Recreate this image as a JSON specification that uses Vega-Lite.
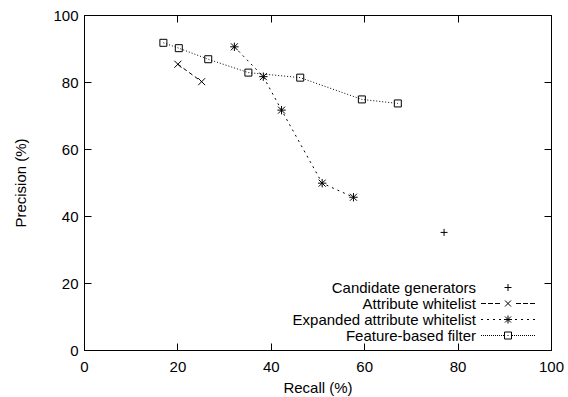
{
  "$schema": "https://vega.github.io/schema/vega-lite/v6.json",
  "width": 467,
  "height": 335,
  "autosize": {"type": "none"},
  "padding": {"left": 84, "top": 15, "right": 17, "bottom": 47},
  "background": "white",
  "config": {
    "font": "Liberation Sans",
    "view": {"stroke": "black", "strokeWidth": 1},
    "axis": {
      "domain": false,
      "grid": false,
      "tickSize": -7,
      "tickColor": "black",
      "tickWidth": 1,
      "labelFont": "Liberation Sans",
      "labelFontSize": 15,
      "labelColor": "black",
      "labelFlush": false,
      "labelOverlap": false,
      "titleFont": "Liberation Sans",
      "titleFontSize": 15,
      "titleFontWeight": "normal",
      "titleColor": "black"
    }
  },
  "data": {
    "values": [
      {"series": "Candidate generators", "recall": 77.1, "precision": 35.1},
      {"series": "Attribute whitelist", "recall": 20.1, "precision": 85.3},
      {"series": "Attribute whitelist", "recall": 25.2, "precision": 80.1},
      {"series": "Expanded attribute whitelist", "recall": 32.2, "precision": 90.5},
      {"series": "Expanded attribute whitelist", "recall": 38.4, "precision": 81.6},
      {"series": "Expanded attribute whitelist", "recall": 42.3, "precision": 71.6},
      {"series": "Expanded attribute whitelist", "recall": 51.0, "precision": 49.8},
      {"series": "Expanded attribute whitelist", "recall": 57.7, "precision": 45.6},
      {"series": "Feature-based filter", "recall": 17.0, "precision": 91.7},
      {"series": "Feature-based filter", "recall": 20.3, "precision": 90.1},
      {"series": "Feature-based filter", "recall": 26.6, "precision": 86.8},
      {"series": "Feature-based filter", "recall": 35.2, "precision": 82.8},
      {"series": "Feature-based filter", "recall": 46.3, "precision": 81.3},
      {"series": "Feature-based filter", "recall": 59.5, "precision": 74.8},
      {"series": "Feature-based filter", "recall": 67.2, "precision": 73.6}
    ]
  },
  "layer": [
    {
      "transform": [{"filter": "datum.series === 'Attribute whitelist'"}],
      "mark": {"type": "line", "color": "black", "strokeWidth": 1, "strokeDash": [4, 3]},
      "encoding": {
        "x": {
          "field": "recall", "type": "quantitative",
          "scale": {"domain": [0, 100], "nice": false, "zero": false},
          "axis": {"orient": "bottom", "values": [0, 20, 40, 60, 80, 100], "labelPadding": 16, "title": "Recall (%)", "titlePadding": 6}
        },
        "y": {
          "field": "precision", "type": "quantitative",
          "scale": {"domain": [0, 100], "nice": false, "zero": false},
          "axis": {"orient": "left", "values": [0, 20, 40, 60, 80, 100], "labelPadding": 13, "title": "Precision (%)", "titlePadding": 24}
        }
      }
    },
    {
      "transform": [{"filter": "datum.series === 'Expanded attribute whitelist'"}],
      "mark": {"type": "line", "color": "black", "strokeWidth": 1, "strokeDash": [2, 4]},
      "encoding": {
        "x": {"field": "recall", "type": "quantitative", "axis": null},
        "y": {"field": "precision", "type": "quantitative", "axis": null}
      }
    },
    {
      "transform": [{"filter": "datum.series === 'Feature-based filter'"}],
      "mark": {"type": "line", "color": "black", "strokeWidth": 1, "strokeDash": [1, 2]},
      "encoding": {
        "x": {"field": "recall", "type": "quantitative", "axis": null},
        "y": {"field": "precision", "type": "quantitative", "axis": null}
      }
    },
    {
      "mark": {"type": "point", "filled": false, "color": "black", "strokeWidth": 1, "size": 49, "opacity": 1},
      "encoding": {
        "x": {
          "field": "recall", "type": "quantitative",
          "axis": {"orient": "top", "values": [0, 20, 40, 60, 80, 100], "labels": false, "title": null}
        },
        "y": {
          "field": "precision", "type": "quantitative",
          "axis": {"orient": "right", "values": [0, 20, 40, 60, 80, 100], "labels": false, "title": null}
        },
        "shape": {
          "field": "series", "type": "nominal",
          "scale": {
            "domain": ["Attribute whitelist", "Candidate generators", "Expanded attribute whitelist", "Feature-based filter"],
            "range": [
              "M-1,-1L1,1M-1,1L1,-1",
              "M-1,0H1M0,-1V1",
              "M-1,-1L1,1M-1,1L1,-1M-1.2,0H1.2M0,-1.2V1.2",
              "M-1,-1H1V1H-1Z"
            ]
          },
          "legend": null
        }
      }
    },
    {
      "transform": [{"filter": "false"}],
      "mark": {"type": "point", "filled": false, "color": "black", "strokeWidth": 1, "opacity": 1},
      "encoding": {
        "x": {"field": "recall", "type": "quantitative", "axis": null},
        "y": {"field": "precision", "type": "quantitative", "axis": null},
        "shape": {
          "field": "series", "type": "nominal",
          "scale": {
            "domain": ["Candidate generators", "Attribute whitelist", "Expanded attribute whitelist", "Feature-based filter"],
            "range": [
              "M-0.7,0H0.7M0,-0.7V0.7",
              "M-5.4,0H-4.4M-4,0H-3M-2.6,0H-1.6M-0.6,-0.6L0.6,0.6M-0.6,0.6L0.6,-0.6M1.6,0H2.6M3,0H4M4.4,0H5.4",
              "M-5.4,0H-5M-4.2,0H-3.8M-3,0H-2.6M-1.8,0H-1.4M-0.6,-0.6L0.6,0.6M-0.6,0.6L0.6,-0.6M-0.8,0H0.8M0,-0.8V0.8M1.4,0H1.8M2.6,0H3M3.8,0H4.2M5,0H5.4",
              "M-5.4,0H-5.2M-5,0H-4.8M-4.6,0H-4.4M-4.2,0H-4M-3.8,0H-3.6M-3.4,0H-3.2M-3,0H-2.8M-2.6,0H-2.4M-2.2,0H-2M-1.8,0H-1.6M-1.4,0H-1.2M-1,0H-0.8M-0.7,-0.7H0.7V0.7H-0.7ZM-0.1,0H0.1M0.8,0H1M1.2,0H1.4M1.6,0H1.8M2,0H2.2M2.4,0H2.6M2.8,0H3M3.2,0H3.4M3.6,0H3.8M4,0H4.2M4.4,0H4.6M4.8,0H5M5.2,0H5.4"
            ]
          },
          "legend": {
            "title": null,
            "orient": "none",
            "legendX": 416.5,
            "legendY": 265,
            "padding": 0,
            "rowPadding": -1.6,
            "labelFont": "Liberation Sans",
            "labelFontSize": 15,
            "labelColor": "black",
            "labelAlign": "right",
            "labelBaseline": "middle",
            "labelOffset": -39.5,
            "labelLimit": 400,
            "symbolSize": 100,
            "symbolStrokeWidth": 1,
            "symbolStrokeColor": "black"
          }
        }
      }
    }
  ],
  "resolve": {
    "axis": {"x": "independent", "y": "independent"},
    "scale": {"shape": "independent"}
  }
}
